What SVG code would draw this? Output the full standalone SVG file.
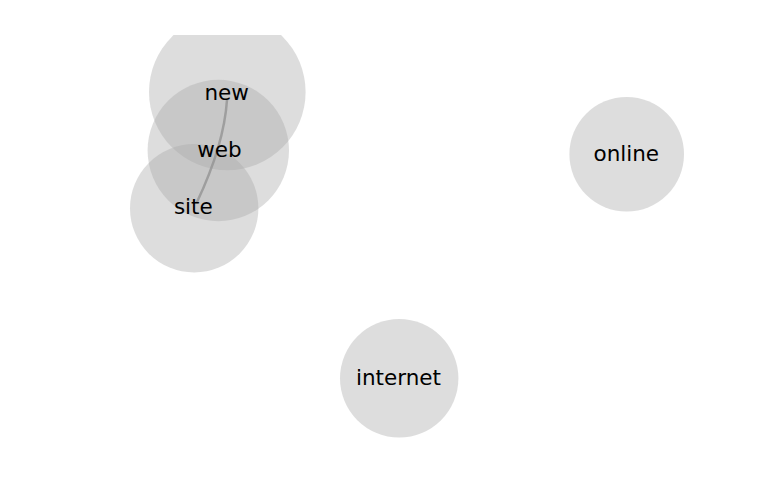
<svg xmlns="http://www.w3.org/2000/svg" width="768" height="500" viewBox="0 0 768 500">
<style>
.bubble{fill:#aaaaaa;fill-opacity:0.4;stroke:none}
.label{font-family:"DejaVu Sans","Liberation Sans",sans-serif;font-size:21.5px;fill:#000;text-anchor:middle}
.link{fill:none;stroke:#909090;stroke-opacity:0.75;stroke-width:2.5;stroke-linecap:round}
</style>
<defs>
<clipPath id="top"><rect x="0" y="35" width="768" height="465"/></clipPath>
</defs>
<rect width="768" height="500" fill="#fff"/>
<g id="circles" clip-path="url(#top)">
<circle class="bubble" cx="227.3" cy="92" r="78.3"/>
<circle class="bubble" cx="218.3" cy="150.5" r="70.7"/>
<circle class="bubble" cx="194.2" cy="208.3" r="64.2"/>
<circle class="bubble" cx="626.7" cy="154.2" r="57.3"/>
<circle class="bubble" cx="399.2" cy="378.3" r="59.2"/>
</g>
<g id="connectors">
<path class="link" d="M227,100 Q224,145 197,202"/>
</g>
<g id="node-new"><text class="label" x="226.7" y="100">new</text></g>
<g id="node-web"><text class="label" x="219.5" y="156.7">web</text></g>
<g id="node-site"><text class="label" x="193.3" y="214">site</text></g>
<g id="node-online"><text class="label" x="626.3" y="160.7">online</text></g>
<g id="node-internet"><text class="label" x="398.5" y="384.7">internet</text></g>
</svg>
